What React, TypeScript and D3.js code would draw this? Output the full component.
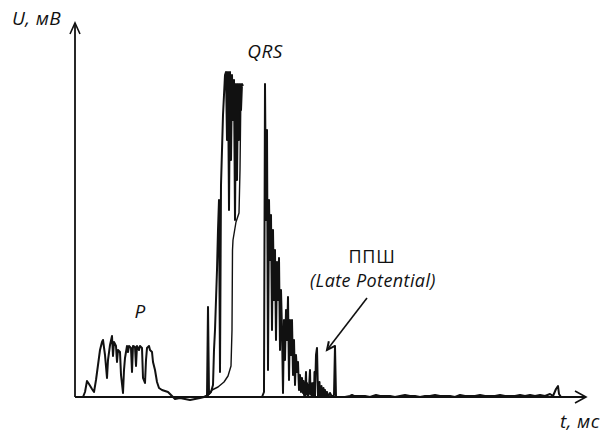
import React, { useRef, useEffect } from "react";
import * as d3 from "d3";

// t in ms, U in µV
// P wave and rising edge of QRS
const riseT = [8, 10, 12, 14, 17, 19, 21, 23, 25, 27, 28, 30, 32, 33, 35, 37, 38, 39, 41, 42,
  43, 45, 46, 48, 49, 50, 52, 53, 54, 56, 57, 58, 60, 61, 62, 64, 65, 67, 68, 70,
  71, 72, 74, 75, 77, 78, 80, 82, 84, 87, 90, 93, 96, 100, 105, 110, 115, 120, 125, 129,
  131, 132, 133, 134, 136, 138, 139, 140, 141, 142, 143, 144, 145, 146, 147, 148, 149, 150, 151, 152,
  153, 154, 155, 156, 157, 158, 159, 160, 161, 162, 163, 164, 165, 166, 167, 168];
const riseU = [0, 5, 16, 13, 8, 5, 17, 32, 47, 55, 57, 42, 19, 37, 52, 61, 41, 55, 51, 35,
  47, 45, 22, 4, 27, 39, 51, 45, 51, 49, 25, 51, 50, 31, 51, 47, 51, 49, 19, 14,
  37, 49, 51, 47, 45, 35, 27, 15, 9, 7, 6, 5, 2, -2, -1, -2, -3, -2, -1, 0,
  1, 1, 90, 3, 5, 12, 47, 67, 97, 127, 167, 197, 25, 212, 247, 282, 302, 322, 325, 257,
  325, 187, 325, 237, 322, 277, 317, 177, 313, 217, 313, 257, 313, 287, 313, 311];

// thin overlay on the rising edge
const overlayT = [132, 137, 143, 149, 153, 156, 157, 157.5, 158, 161, 164, 165, 166];
const overlayU = [0, 7, 10, 15, 21, 31, 67, 147, 157, 175, 184, 227, 313];

// falling edge of QRS and the late potential zone
const fallT = [187, 189, 190, 191, 192, 193, 194, 195, 196, 197, 198, 199, 200, 201, 202, 203, 204, 205, 206, 207,
  208, 209, 210, 211, 212, 213, 214, 215, 216, 217, 218, 219, 220, 221, 222, 223, 224, 225, 226, 227,
  228, 228.5, 229, 229.5, 230, 231, 231.5, 232, 232.5, 233, 233.5, 234, 235, 235.5, 236, 236.5, 237, 237.5, 238, 239,
  239.5, 240, 241, 242, 243, 243.5, 244, 244.5, 245, 245.5, 246, 246.5, 247, 247.5, 248, 248.5, 249, 250, 251, 252,
  253, 255, 257, 259, 260, 261, 265];
const fallU = [0, 5, 313, 177, 267, 27, 197, 137, 182, 67, 167, 97, 147, 57, 135, 97, 139, 47, 107, 67,
  4, 77, 37, 87, 57, 100, 17, 77, 42, 77, 22, 57, 12, 42, 25, 35, 7, 22, 5, 19,
  4, 16, 2, 12, 1, 25, 3, 14, 1, 12, 2, 9, 27, 3, 14, 1, 10, 2, 14, 1,
  25, 1, 42, 49, 1, 10, 2, 15, 1, 8, 3, 11, 1, 6, 2, 9, 1, 7, 1, 5,
  0, 4, 0, 2, 51, 0, 0];

// baseline after the complex
const tailT = [270, 275, 277, 279, 285, 290, 295, 301, 305, 310, 315, 320, 325, 330, 335, 340, 345, 350, 355, 360,
  365, 370, 375, 380, 385, 390, 395, 400, 405, 410, 415, 420, 425, 430, 435, 440, 445, 450, 455, 460,
  465, 470, 475, 478, 481, 483, 484, 486];
const tailU = [0, 1, 2, 1, 1, 1, 0, 2, 1, 1, 1, 0, 1, 2, 1, 1, 0, 1, 1, 2,
  1, 1, 1, 0, 2, 1, 1, 1, 2, 1, 1, 1, 2, 1, 1, 1, 2, 1, 2, 1,
  2, 1, 3, 1, 8, 11, 3, 0];

const labels = {
  yAxis: "U, мВ",
  xAxis: "t, мс",
  qrs: "QRS",
  p: "P",
  lpRu: "ППШ",
  lpEn: "(Late Potential)",
};

export default function App() {
  const svgRef = useRef(null);

  useEffect(() => {
    const width = 612;
    const height = 434;
    const svg = d3.select(svgRef.current).attr("width", width).attr("height", height);
    svg.selectAll("*").remove();

    const x = d3.scaleLinear().domain([0, 511]).range([75, 586]);
    const y = d3.scaleLinear().domain([0, 374]).range([397, 23]);
    const font = "'Open Sans', 'DejaVu Sans', sans-serif";
    const ink = "#111";

    // axes with open arrow heads
    svg.append("line").attr("x1", x(0)).attr("x2", x(0)).attr("y1", y(0)).attr("y2", y(374))
      .attr("stroke", ink).attr("stroke-width", 1.8);
    svg.append("line").attr("x1", x(0)).attr("x2", x(511)).attr("y1", y(0)).attr("y2", y(0))
      .attr("stroke", ink).attr("stroke-width", 1.8);
    svg.append("path")
      .attr("d", `M${x(0) - 5},${y(374) + 11}L${x(0)},${y(374)}L${x(0) + 5},${y(374) + 11}`)
      .attr("fill", "none").attr("stroke", ink).attr("stroke-width", 1.6);
    svg.append("path")
      .attr("d", `M${x(511) - 11},${y(0) - 6}L${x(511)},${y(0)}L${x(511) - 11},${y(0) + 6}`)
      .attr("fill", "none").attr("stroke", ink).attr("stroke-width", 1.6);

    const trace = (ts: number[], us: number[], w: number) => {
      const line = d3.line<number>().x((i) => x(ts[i])).y((i) => y(us[i]));
      svg.append("path")
        .attr("d", line(d3.range(ts.length)))
        .attr("fill", "none").attr("stroke", ink).attr("stroke-width", w)
        .attr("stroke-linejoin", "round");
    };
    trace(riseT, riseU, 2);
    trace(overlayT, overlayU, 1.4);
    trace(fallT, fallU, 2);
    trace(tailT, tailU, 2);

    // late potential pointer
    const ax0 = x(292), ay0 = y(99), ax1 = x(252), ay1 = y(47);
    svg.append("line").attr("x1", ax0).attr("y1", ay0).attr("x2", ax1).attr("y2", ay1)
      .attr("stroke", ink).attr("stroke-width", 1.6);
    const ang = Math.atan2(ay1 - ay0, ax1 - ax0);
    const hl = 9, hw = 0.45;
    svg.append("path")
      .attr("d", `M${ax1 - hl * Math.cos(ang - hw)},${ay1 - hl * Math.sin(ang - hw)}L${ax1},${ay1}L${ax1 - hl * Math.cos(ang + hw)},${ay1 - hl * Math.sin(ang + hw)}`)
      .attr("fill", "none").attr("stroke", ink).attr("stroke-width", 2);

    const text = (tx: number, ty: number, s: string, size: number, italic = true, anchor = "start") =>
      svg.append("text").attr("x", tx).attr("y", ty).attr("font-family", font)
        .attr("font-size", size).attr("font-style", italic ? "italic" : "normal")
        .attr("letter-spacing", italic ? 0.4 : 0.8)
        .attr("text-anchor", anchor).attr("fill", ink).text(s);

    text(12, 25, labels.yAxis, 19);
    text(560, 428, labels.xAxis, 19);
    text(265, 58, labels.qrs, 19, true, "middle");
    text(140, 318, labels.p, 19, true, "middle");
    text(372, 263, labels.lpRu, 18, false, "middle");
    text(373, 287, labels.lpEn, 18, true, "middle");
  }, []);

  return <svg ref={svgRef} style={{ position: "absolute", left: 0, top: 0, background: "#fff" }}></svg>;
}
